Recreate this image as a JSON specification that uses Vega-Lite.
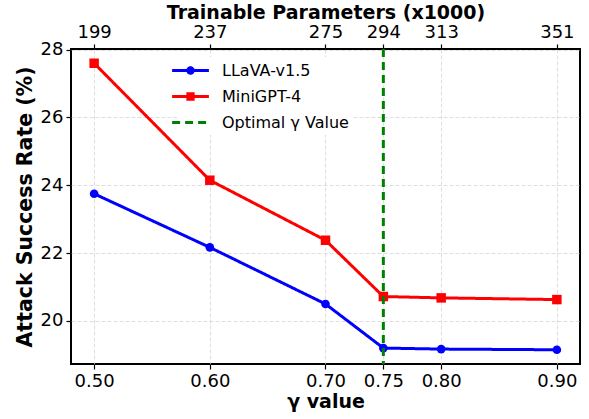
{
  "$schema": "https://vega.github.io/schema/vega-lite/v6.json",
  "width": 509,
  "height": 315,
  "autosize": {"type": "none"},
  "padding": {"left": 71, "top": 49, "right": 9, "bottom": 55},
  "background": "white",
  "config": {
    "font": "DejaVu Sans",
    "view": {"stroke": "black", "strokeWidth": 2},
    "axis": {
      "domain": false,
      "tickColor": "black",
      "tickSize": 5,
      "tickWidth": 1.2,
      "labelColor": "black",
      "labelFontSize": 18,
      "labelPadding": 3,
      "titleFontSize": 19,
      "titleFontWeight": "bold",
      "titleColor": "black",
      "gridColor": "#d5d5d5",
      "gridDash": [4, 2],
      "gridWidth": 0.8
    },
    "legend": {
      "labelFontSize": 16,
      "labelColor": "black",
      "labelFont": "DejaVu Sans"
    }
  },
  "data": {
    "values": [
      {"gamma": 0.50, "asr": 23.75, "model": "LLaVA-v1.5"},
      {"gamma": 0.60, "asr": 22.17, "model": "LLaVA-v1.5"},
      {"gamma": 0.70, "asr": 20.50, "model": "LLaVA-v1.5"},
      {"gamma": 0.75, "asr": 19.20, "model": "LLaVA-v1.5"},
      {"gamma": 0.80, "asr": 19.17, "model": "LLaVA-v1.5"},
      {"gamma": 0.90, "asr": 19.15, "model": "LLaVA-v1.5"},
      {"gamma": 0.50, "asr": 27.60, "model": "MiniGPT-4"},
      {"gamma": 0.60, "asr": 24.15, "model": "MiniGPT-4"},
      {"gamma": 0.70, "asr": 22.38, "model": "MiniGPT-4"},
      {"gamma": 0.75, "asr": 20.72, "model": "MiniGPT-4"},
      {"gamma": 0.80, "asr": 20.68, "model": "MiniGPT-4"},
      {"gamma": 0.90, "asr": 20.63, "model": "MiniGPT-4"}
    ]
  },
  "layer": [
    {
      "mark": {"type": "line", "strokeWidth": 3},
      "encoding": {
        "x": {
          "field": "gamma",
          "type": "quantitative",
          "scale": {"domain": [0.48, 0.92], "nice": false, "zero": false},
          "axis": {
            "orient": "bottom",
            "values": [0.5, 0.6, 0.7, 0.75, 0.8, 0.9],
            "format": ".2f",
            "title": "γ value",
            "titlePadding": 2,
            "grid": true
          }
        },
        "y": {
          "field": "asr",
          "type": "quantitative",
          "scale": {"domain": [18.73, 28.02], "nice": false, "zero": false},
          "axis": {
            "values": [20, 22, 24, 26, 28],
            "title": "Attack Success Rate (%)",
            "titleFontSize": 20.5,
            "titlePadding": 5,
            "grid": true
          }
        },
        "color": {
          "field": "model",
          "type": "nominal",
          "scale": {
            "domain": ["LLaVA-v1.5", "MiniGPT-4", "Optimal γ Value"],
            "range": ["#0000ff", "#ff0000", "#008000"]
          },
          "legend": {
            "title": null,
            "orient": "none",
            "legendX": 106,
            "legendY": 8,
            "fillColor": "white",
            "padding": 4,
            "symbolSize": 256,
            "symbolStrokeWidth": 3,
            "labelOffset": 22,
            "rowPadding": 7,
            "symbolOpacity": 1,
            "encode": {
              "symbols": {
                "update": {
                  "shape": {"signal": "datum.value === 'LLaVA-v1.5' ? 'M-2.3,0H2.3M-0.34,0A0.34,0.34 0 1,0 0.34,0A0.34,0.34 0 1,0 -0.34,0Z' : datum.value === 'MiniGPT-4' ? 'M-2.3,0H2.3M-0.33,-0.33H0.33V0.33H-0.33Z' : 'M-2.3,0H2.3'"},
                  "fill": {"signal": "datum.value === 'LLaVA-v1.5' ? '#0000ff' : datum.value === 'MiniGPT-4' ? '#ff0000' : 'transparent'"}
                }
              }
            }
          }
        },
        "strokeDash": {
          "field": "model",
          "type": "nominal",
          "scale": {
            "domain": ["LLaVA-v1.5", "MiniGPT-4", "Optimal γ Value"],
            "range": [[1, 0], [1, 0], [8, 5]]
          },
          "legend": null
        }
      }
    },
    {
      "transform": [{"filter": "datum.model === 'LLaVA-v1.5'"}],
      "mark": {"type": "point", "shape": "circle", "filled": true, "size": 75, "color": "#0000ff", "opacity": 1},
      "encoding": {
        "x": {"field": "gamma", "type": "quantitative", "axis": null},
        "y": {"field": "asr", "type": "quantitative"}
      }
    },
    {
      "transform": [{"filter": "datum.model === 'MiniGPT-4'"}],
      "mark": {"type": "point", "shape": "square", "filled": true, "size": 90, "color": "#ff0000", "opacity": 1},
      "encoding": {
        "x": {"field": "gamma", "type": "quantitative", "axis": null},
        "y": {"field": "asr", "type": "quantitative"}
      }
    },
    {
      "data": {"values": [{"gamma": 0.75, "model": "Optimal γ Value"}]},
      "mark": {"type": "rule", "strokeWidth": 3},
      "encoding": {
        "x": {
          "field": "gamma",
          "type": "quantitative",
          "axis": {
            "orient": "top",
            "values": [0.5, 0.6, 0.7, 0.75, 0.8, 0.9],
            "labelExpr": "datum.value < 0.55 ? '199' : datum.value < 0.65 ? '237' : datum.value < 0.72 ? '275' : datum.value < 0.77 ? '294' : datum.value < 0.85 ? '313' : '351'",
            "title": "Trainable Parameters (x1000)",
            "titlePadding": 1,
            "grid": false
          }
        },
        "color": {"field": "model", "type": "nominal"},
        "strokeDash": {"field": "model", "type": "nominal"}
      }
    }
  ],
  "resolve": {"axis": {"x": "independent"}}
}
